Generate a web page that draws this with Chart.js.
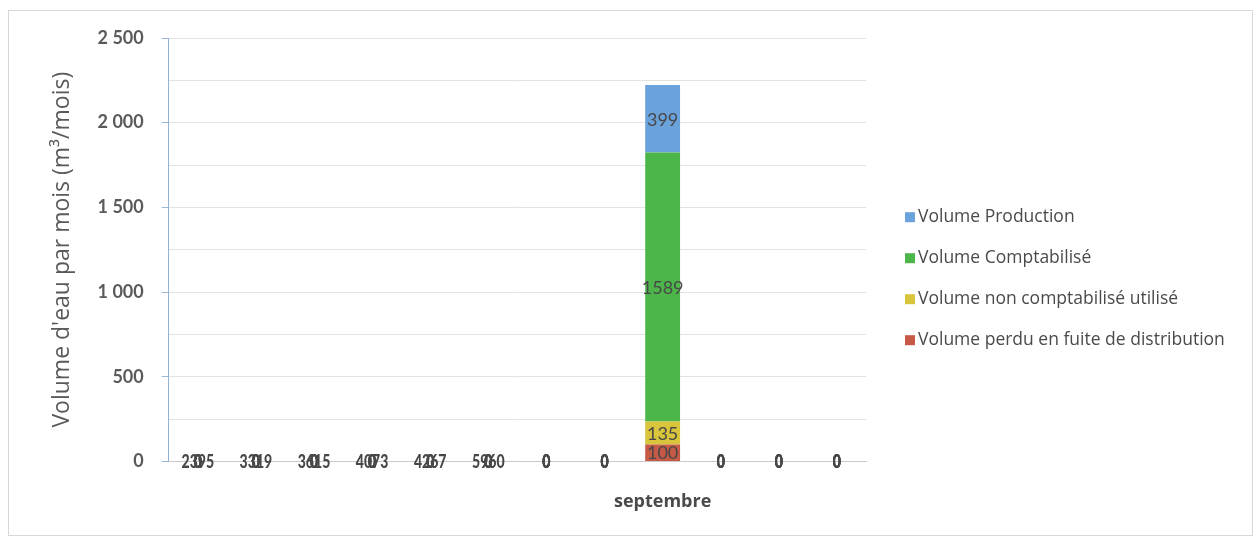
<!DOCTYPE html>
<html>
<head>
<meta charset="utf-8">
<script src="https://cdn.jsdelivr.net/npm/chart.js@4"></script>
<style>
	html, body { margin: 0; padding: 0; background: #fff; }
	#box { position: absolute; left: 8px; top: 10px; width: 1243px; height: 524px; border: 1px solid #d8d8d8; }
	#wrap { position: absolute; left: 0; top: 0; width: 1259px; height: 539px; }
</style>
</head>
<body>
<div id="box"></div>
<div id="wrap"><canvas id="volChart"></canvas></div>
<script>
// mois (seul septembre est étiqueté sur l'axe)
const months = ['', '', '', '', '', '', '', '', 'septembre', '', '', ''];

// séries empilées, du bas vers le haut
const fuite = [0, 0, 0, 0, 0, 0, 0, 0, 100, 0, 0, 0];
const nonCompta = [0, 0, 0, 0, 0, 0, 0, 0, 135, 0, 0, 0];
const compta = [0, 0, 0, 0, 0, 0, 0, 0, 1589, 0, 0, 0];
const production = [0, 0, 0, 0, 0, 0, 0, 0, 399, 0, 0, 0];

// étiquettes qui restent collées sur l'axe pour les mois vides
const baseLabels = ['2395', '3319', '3615', '4073', '4267', '5960', '', '', '', '', '', ''];

const yTicks = [0, 500, 1000, 1500, 2000, 2500];

// texte étroit (façon police condensée)
function narrowText(ctx, t, x, y) {
	ctx.save();
	ctx.translate(x, y);
	ctx.scale(0.74, 1);
	ctx.fillText(t, 0, 0);
	ctx.restore();
}

const labelPlugin = {
	id: 'labelPlugin',
	afterDatasetsDraw(chart) {
		const { ctx, scales: { x, y } } = chart;
		const y0 = y.getPixelForValue(0);
		ctx.save();
		ctx.textAlign = 'center';
		ctx.textBaseline = 'middle';
		ctx.fillStyle = '#484848';
		ctx.font = '900 19px Lato';
		// nombres superposés sur l'axe
		baseLabels.forEach((t, j) => {
			if (t) narrowText(ctx, t, x.getPixelForValue(j), y0);
		});
		// valeurs sur les segments
		chart.data.datasets.forEach((ds, i) => {
			const meta = chart.getDatasetMeta(i);
			meta.data.forEach((bar, j) => {
				const v = ds.data[j];
				if (v > 0) {
					ctx.font = '18px Lato';
					ctx.fillText(v, bar.x, (bar.y + bar.base) / 2 + 1);
				} else {
					ctx.font = '900 19px Lato';
					narrowText(ctx, '0', bar.x, y0);
				}
			});
		});
		ctx.restore();
	}
};

// légende à droite, dessinée à partir des jeux de données (ordre inversé)
const legendPlugin = {
	id: 'sideLegend',
	afterDraw(chart) {
		const { ctx, chartArea } = chart;
		const items = chart.data.datasets.slice().reverse();
		const step = 41;
		const x0 = chartArea.right + 39;
		const yStart = (chartArea.top + chartArea.bottom) / 2 + 29 - step * (items.length - 1) / 2;
		ctx.save();
		ctx.font = '17.5px "Open Sans"';
		ctx.textBaseline = 'middle';
		ctx.textAlign = 'left';
		items.forEach((ds, i) => {
			const yy = yStart + i * step;
			ctx.fillStyle = ds.backgroundColor;
			ctx.fillRect(x0, yy - 5, 10, 10);
			ctx.fillStyle = '#4a4a4a';
			ctx.fillText(ds.label, x0 + 13, yy);
		});
		ctx.restore();
	}
};

function drawChart() {
	const ctx = document.getElementById('volChart').getContext('2d');
	new Chart(ctx, {
		type: 'bar',
		data: {
			labels: months,
			datasets: [
				{ label: 'Volume perdu en fuite de distribution', data: fuite, backgroundColor: '#c65a46' },
				{ label: 'Volume non comptabilisé utilisé', data: nonCompta, backgroundColor: '#d8c53c' },
				{ label: 'Volume Comptabilisé', data: compta, backgroundColor: '#4cb64a' },
				{ label: 'Volume Production', data: production, backgroundColor: '#6aa2dc' }
			]
		},
		options: {
			responsive: true,
			maintainAspectRatio: false,
			animation: false,
			layout: { padding: { left: 45, right: 393, top: 38, bottom: -4 } },
			datasets: { bar: { barPercentage: 0.6, categoryPercentage: 1 } },
			plugins: {
				legend: { display: false },
				tooltip: { enabled: false }
			},
			scales: {
				x: {
					stacked: true,
					grid: { display: false, drawTicks: false },
					border: { color: '#c8c8c8' },
					ticks: {
						padding: 30,
						maxRotation: 0,
						autoSkip: false,
						color: '#4a4a4a',
						font: { family: 'Open Sans', size: 18, weight: 'bold' }
					}
				},
				y: {
					stacked: true,
					min: 0,
					max: 2500,
					grid: {
						color: '#e2e2e2',
						tickLength: 7,
						tickColor: c => (yTicks.includes(c.tick.value) ? '#9ab8d8' : 'rgba(0,0,0,0)')
					},
					border: { color: '#8fb2d6' },
					ticks: {
						stepSize: 250,
						padding: 18,
						color: '#5a5a5a',
						font: { family: 'Lato', size: 18, weight: 'bold' },
						callback: v => (yTicks.includes(v) ? (v >= 1000 ? Math.floor(v / 1000) + ' ' + String(v % 1000).padStart(3, '0') : String(v)) : '')
					},
					title: {
						display: true,
						text: "Volume d'eau par mois (m³/mois)",
						color: '#5a5a5a',
						padding: { bottom: 3 },
						font: { family: 'Open Sans', size: 23 }
					}
				}
			}
		},
		plugins: [labelPlugin, legendPlugin]
	});
}

Promise.all([
	document.fonts.load('17.5px "Open Sans"'),
	document.fonts.load('bold 18px "Open Sans"'),
	document.fonts.load('18px Lato'),
	document.fonts.load('bold 18px Lato'),
	document.fonts.load('900 19px Lato')
]).then(drawChart, drawChart);
</script>
</body>
</html>
